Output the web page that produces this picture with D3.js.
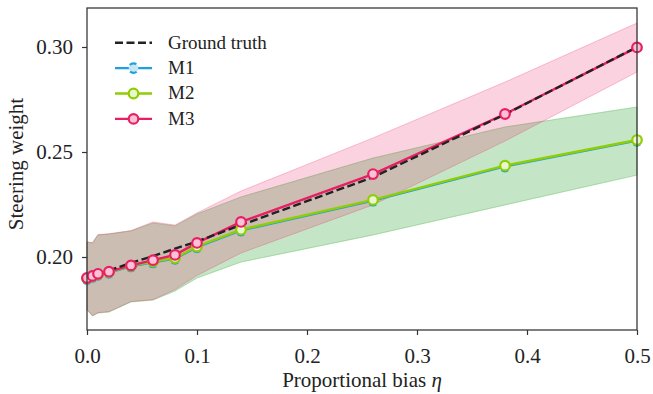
<!DOCTYPE html>
<html><head><meta charset="utf-8">
<script src="https://cdn.jsdelivr.net/npm/d3@7"></script>
<style>
body{margin:0;background:#fff}
svg text, svg tspan{font-family:"Liberation Serif" !important;}
</style>
</head><body style="margin:0">
<svg id="c" width="653" height="394" style="font-family:'Liberation Serif'"></svg>
<script>
const eta = [0, 0.005, 0.01, 0.02, 0.04, 0.06, 0.08, 0.10, 0.14, 0.26, 0.38, 0.50];
const groundTruth = [0.1900, 0.1909, 0.1918, 0.1936, 0.1972, 0.2004, 0.2040, 0.2074, 0.2152, 0.2380, 0.2679, 0.3000];
const m1 = [0.1895, 0.1905, 0.1915, 0.1925, 0.1955, 0.1974, 0.1991, 0.2046, 0.2126, 0.2268, 0.2431, 0.2553];
const m2 = [0.1898, 0.1908, 0.1918, 0.1928, 0.1958, 0.1978, 0.1995, 0.2050, 0.2130, 0.2272, 0.2435, 0.2557];
const m3 = [0.1900, 0.1910, 0.1920, 0.1930, 0.1960, 0.1985, 0.2010, 0.2067, 0.2167, 0.2395, 0.2681, 0.2998];
const m1Lo = [0.1748, 0.1719, 0.1733, 0.1738, 0.1786, 0.1795, 0.1838, 0.1900, 0.1976, 0.2105, 0.2248, 0.2390];
const m1Hi = [0.2071, 0.2067, 0.2105, 0.2109, 0.2124, 0.2162, 0.2148, 0.2205, 0.2286, 0.2471, 0.2619, 0.2714];
const m2Lo = [0.1748, 0.1719, 0.1733, 0.1738, 0.1786, 0.1795, 0.1838, 0.1900, 0.1976, 0.2105, 0.2248, 0.2390];
const m2Hi = [0.2071, 0.2067, 0.2105, 0.2109, 0.2124, 0.2162, 0.2148, 0.2205, 0.2286, 0.2471, 0.2619, 0.2714];
const m3Lo = [0.1750, 0.1721, 0.1735, 0.1740, 0.1788, 0.1797, 0.1845, 0.1912, 0.2019, 0.2248, 0.2552, 0.2881];
const m3Hi = [0.2072, 0.2068, 0.2107, 0.2111, 0.2126, 0.2167, 0.2152, 0.2210, 0.2314, 0.2567, 0.2833, 0.3114];
const xTicks = [0, 0.1, 0.2, 0.3, 0.4, 0.5];
const yTicks = [0.20, 0.25, 0.30];
const seriesNames = ["Ground truth", "M1", "M2", "M3"];

const FONT = '"Liberation Serif"';
const svg = d3.select("#c");
const L = 87, T = 8, W = 550, H = 322;
const x = d3.scaleLinear().domain([0, 0.5]).range([L, L + W]);
const y = d3.scaleLinear().domain([0.20 - 73/2100, 0.20 + 249/2100]).range([T + H, T]);

const series = [
  {name: "M1", vals: m1, lo: m1Lo, hi: m1Hi, col: "#1e9fe0", fill: "#c6e6f6", band: "#1e9fe0", lw: 2.0},
  {name: "M2", vals: m2, lo: m2Lo, hi: m2Hi, col: "#8fce00", fill: "#eaf6cf", band: "#8fce00", lw: 2.4},
  {name: "M3", vals: m3, lo: m3Lo, hi: m3Hi, col: "#e91e63", fill: "#f9c2d7", band: "#e91e63", lw: 2.4}
];

const g = svg.append("g");
const area = (s) => d3.area().x((d, i) => x(eta[i])).y0((d, i) => y(s.lo[i])).y1((d, i) => y(s.hi[i]));
series.forEach(s => {
  g.append("path").datum(eta).attr("d", area(s))
    .attr("fill", s.band).attr("fill-opacity", 0.2)
    .attr("stroke", s.band).attr("stroke-opacity", 0.25).attr("stroke-width", 1);
});
const line = (vals) => d3.line().x((d, i) => x(eta[i])).y((d, i) => y(vals[i]));
series.forEach(s => {
  g.append("path").datum(eta).attr("d", line(s.vals)).attr("fill", "none")
    .attr("stroke", s.col).attr("stroke-width", s.lw);
});
g.append("path").datum(eta).attr("d", line(groundTruth)).attr("fill", "none")
  .attr("stroke", "#222").attr("stroke-width", 2.4).attr("stroke-dasharray", "8,3.5");
series.forEach(s => {
  g.selectAll(null).data(eta).enter().append("circle")
    .attr("cx", d => x(d)).attr("cy", (d, i) => y(s.vals[i])).attr("r", 4.8)
    .attr("fill", s.fill).attr("stroke", s.col).attr("stroke-width", 2.2)
    .attr("stroke-dasharray", s.name === "M1" ? "7,7" : null)
    .attr("stroke-dashoffset", s.name === "M1" ? 10 : null);
});

svg.append("rect").attr("x", L).attr("y", T).attr("width", W).attr("height", H)
  .attr("fill", "none").attr("stroke", "#3a3a3a").attr("stroke-width", 1.3);

const xa = svg.append("g").attr("transform", `translate(0,${T + H})`)
  .call(d3.axisBottom(x).tickValues(xTicks).tickFormat(d3.format(".1f")).tickSize(5).tickPadding(13));
const ya = svg.append("g").attr("transform", `translate(${L},0)`)
  .call(d3.axisLeft(y).tickValues(yTicks).tickFormat(d3.format(".2f")).tickSize(5).tickPadding(9));
[xa, ya].forEach(a => {
  a.attr("font-family", FONT).attr("font-size", 21);
  a.select(".domain").remove();
  a.selectAll(".tick line").attr("stroke", "#333").attr("stroke-width", 1.2);
  a.selectAll(".tick text").attr("fill", "#222").style("font-family", FONT).style("font-size", "21px");
});

svg.append("text").attr("x", L + W / 2).attr("y", 387).attr("text-anchor", "middle")
  .style("font-family", FONT).attr("fill", "#222").style("font-size", "21px").text("Proportional bias ")
  .append("tspan").style("font-style", "italic").text("η");
svg.append("text").attr("transform", "translate(23,164) rotate(-90)").attr("text-anchor", "middle")
  .style("font-family", FONT).attr("fill", "#222").style("font-size", "21px").text("Steering weight");

const lg = svg.append("g");
const legCols = {"Ground truth": "#222", M1: "#1e9fe0", M2: "#8fce00", M3: "#e91e63"};
const legFill = {M1: "#c6e6f6", M2: "#eaf6cf", M3: "#f9c2d7"};
seriesNames.forEach((n, i) => {
  const yy = 42.7 + i * 25.4;
  lg.append("line").attr("x1", 115).attr("x2", 152).attr("y1", yy).attr("y2", yy)
    .attr("stroke", legCols[n]).attr("stroke-width", 2.4)
    .attr("stroke-dasharray", n === "Ground truth" ? "8,3.5" : null);
  if (n !== "Ground truth") {
    lg.append("circle").attr("cx", 133.5).attr("cy", yy).attr("r", 4.8)
      .attr("fill", legFill[n]).attr("stroke", legCols[n]).attr("stroke-width", 2.2)
      .attr("stroke-dasharray", n === "M1" ? "7,7" : null)
      .attr("stroke-dashoffset", n === "M1" ? 10 : null);
  }
  lg.append("text").attr("x", 168).attr("y", yy + 5.8).attr("fill", "#222")
    .style("font-family", FONT).style("font-size", "19px").text(n);
});
</script></body></html>
